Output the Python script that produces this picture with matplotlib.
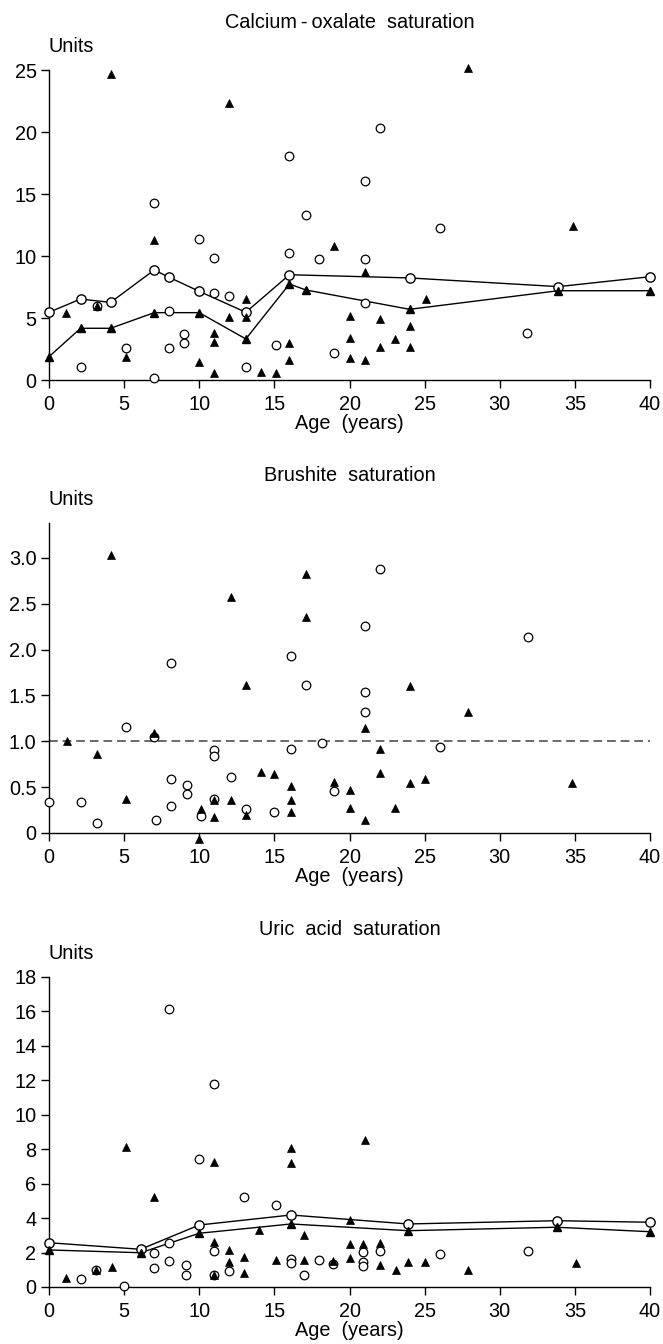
import matplotlib
matplotlib.use('Agg')
import matplotlib.pyplot as plt

plt.rcParams['font.family'] = ['Liberation Sans', 'DejaVu Sans']

# ---- Calcium-oxalate ----
ox_circ_x = [3.2, 7.0, 8.0, 10.0, 11.0, 11.0, 12.0, 16.0, 16.0, 17.1, 18.0, 21.0, 21.0, 21.0,
             22.0, 26.0, 31.8, 19.0, 2.1, 5.1, 7.0, 8.0, 9.0, 9.0, 13.1, 15.1]
ox_circ_y = [6.0, 14.27, 5.59, 11.34, 9.87, 6.99, 6.77, 18.04, 10.27, 13.28, 9.73, 16.05, 9.73, 6.18,
             20.35, 12.28, 3.79, 2.15, 1.02, 2.58, 0.19, 2.55, 3.71, 3.01, 1.08, 2.82]
ox_tri_x = [4.1, 12.0, 7.0, 19.0, 27.9, 34.9, 21.0, 1.1, 3.2, 5.1, 10.0, 11.0, 11.0, 11.0, 12.0,
            13.1, 13.1, 14.1, 15.1, 16.0, 16.0, 20.0, 22.0, 25.1, 24.0, 20.0, 23.0, 22.0, 24.0,
            20.0, 21.0]
ox_tri_y = [24.68, 22.31, 11.29, 10.8, 25.19, 12.44, 8.73, 5.43, 5.97, 1.88, 1.48, 3.76, 3.09, 0.59,
            5.05, 6.53, 5.05, 0.67, 0.54, 3.01, 1.61, 5.16, 4.92, 6.51, 4.38, 3.36, 3.31, 2.64, 2.69,
            1.75, 1.61]
ox_cline_x = [0, 2.1, 4.1, 7.0, 8.0, 10.0, 13.1, 16.0, 24.0, 33.9, 40]
ox_cline_y = [5.46, 6.53, 6.26, 8.87, 8.28, 7.15, 5.46, 8.49, 8.23, 7.53, 8.33]
ox_tline_x = [0, 2.1, 4.1, 7.0, 10.0, 13.1, 16.0, 17.1, 24.0, 33.9, 40]
ox_tline_y = [1.88, 4.17, 4.17, 5.43, 5.43, 3.31, 7.74, 7.26, 5.7, 7.2, 7.2]

# ---- Brushite ----
br_circ_x = [0, 2.1, 3.2, 5.1, 7.0, 7.1, 8.1, 8.1, 8.1, 9.2, 9.2, 10.1, 11.0, 11.0, 11.0, 12.1,
             13.1, 15.0, 16.1, 16.1, 17.1, 18.2, 19.0, 22.0, 21.0, 31.9, 21.0, 21.0, 26.0]
br_circ_y = [0.34, 0.34, 0.105, 1.16, 1.05, 0.14, 1.85, 0.585, 0.29, 0.52, 0.425, 0.18, 0.90, 0.84,
             0.37, 0.61, 0.26, 0.23, 1.93, 0.92, 1.61, 0.98, 0.46, 2.875, 2.26, 2.14, 1.54, 1.32, 0.935]
br_tri_x = [4.1, 1.2, 3.2, 5.1, 7.0, 10.1, 10.0, 11.0, 11.0, 12.1, 12.1, 13.1, 13.1, 14.1, 15.0,
            16.1, 16.1, 16.1, 17.1, 17.1, 19.0, 20.0, 20.0, 21.0, 21.0, 22.0, 22.0, 23.0, 24.0,
            24.0, 25.0, 27.9, 34.8]
br_tri_y = [3.03, 1.0, 0.86, 0.37, 1.09, 0.26, -0.06, 0.36, 0.17, 2.57, 0.36, 1.61, 0.2, 0.66, 0.64,
            0.51, 0.36, 0.225, 2.82, 2.36, 0.56, 0.47, 0.276, 0.14, 1.14, 0.92, 0.65, 0.276, 1.6,
            0.54, 0.585, 1.32, 0.54]
br_ytick_labels = ['0', '0.5', '1.0', '1.5', '2.0', '2.5', '3.0']

# ---- Uric acid ----
ur_circ_x = [2.1, 3.1, 5.0, 7.0, 7.0, 8.0, 8.0, 8.0, 9.1, 9.1, 10.0, 11.0, 11.0, 11.0, 12.0, 13.0,
             15.1, 16.1, 16.1, 17.0, 18.0, 18.9, 20.9, 20.9, 20.9, 22.0, 26.0, 31.9]
ur_circ_y = [0.46, 0.99, 0.08, 1.96, 1.09, 16.13, 2.57, 1.53, 1.28, 0.70, 7.43, 11.79, 2.09, 0.70,
             0.95, 5.23, 4.76, 1.65, 1.42, 0.70, 1.57, 1.32, 2.01, 1.47, 1.24, 2.09, 1.9, 2.11]
ur_tri_x = [1.1, 3.1, 4.2, 5.1, 7.0, 11.0, 11.0, 11.0, 12.0, 12.0, 13.0, 13.0, 14.0, 15.1, 16.1,
            16.1, 17.0, 17.0, 18.9, 21.0, 20.0, 20.0, 20.9, 22.0, 20.0, 22.0, 23.1, 23.9, 25.0,
            27.9, 35.1]
ur_tri_y = [0.5, 0.99, 1.18, 8.15, 5.21, 7.24, 2.63, 0.70, 2.15, 1.47, 1.72, 0.79, 3.31, 1.57, 8.05,
            7.18, 3.02, 1.57, 1.53, 8.54, 3.89, 2.48, 2.48, 2.57, 1.66, 1.28, 0.99, 1.47, 1.47,
            0.99, 1.41]
ur_line_x = [0, 6.1, 10.0, 16.1, 23.9, 33.8, 40]
ur_cline_y = [2.57, 2.19, 3.6, 4.18, 3.66, 3.85, 3.76]
ur_tline_y = [2.15, 1.99, 3.12, 3.66, 3.27, 3.47, 3.21]

x_ticks = [0, 5, 10, 15, 20, 25, 30, 35, 40]

FS = 14.3
MS = 6.2


def draw_panel(fig, rect, title, ylim, yticks, cx, cy, tx, ty, lines=(), ylabels=None, ref=None):
    ax = fig.add_axes(rect)
    ax.set_xlim(0, 40)
    ax.set_ylim(*ylim)
    for s in ['top', 'right']:
        ax.spines[s].set_visible(False)
    for s in ['left', 'bottom']:
        ax.spines[s].set_linewidth(1.0)
    ax.set_xticks(x_ticks)
    ax.set_yticks(yticks)
    if ylabels is not None:
        ax.set_yticklabels(ylabels)
    ax.tick_params(direction='out', length=5.5, width=1.0, labelsize=FS, colors='black')
    ax.tick_params(axis='x', pad=5)
    ax.set_xlabel('Age  (years)', fontsize=FS, labelpad=0)

    if ref is not None:
        ax.axhline(ref, color='#6a6a6a', lw=1.4, dashes=(4.5, 2.5), zorder=1)

    # mean lines first, then markers on top
    for lx, ly, mk, fc in lines:
        ax.plot(lx, ly, color='black', lw=1.0, zorder=2)
    for lx, ly, mk, fc in lines:
        ax.plot(lx, ly, linestyle='none', marker=mk, ms=MS + (0.5 if mk == 'o' else 0), mfc=fc,
                mec='black', mew=1.0, zorder=3 if mk == 'o' else 4, clip_on=False)

    ax.plot(cx, cy, linestyle='none', marker='o', ms=MS, mfc='white', mec='black', mew=0.9,
            zorder=3, clip_on=False)
    ax.plot(tx, ty, linestyle='none', marker='^', ms=MS, mfc='black', mec='black', mew=0.5,
            zorder=4, clip_on=False)

    ax.annotate(title, xy=(0.5, 1), xycoords='axes fraction', xytext=(0, 34),
                textcoords='offset points', ha='center', va='center', fontsize=FS)
    ax.annotate('Units', xy=(0, 1), xycoords='axes fraction', xytext=(0, 17),
                textcoords='offset points', ha='left', va='center', fontsize=FS)
    return ax


fig = plt.figure(figsize=(6.63, 13.44), dpi=100)

left = 49 / 663
width = (650 - 49) / 663


def rect(top_px, bottom_px):
    return [left, 1 - bottom_px / 1344, width, (bottom_px - top_px) / 1344]


draw_panel(fig, rect(70, 380), 'Calcium\u2009-\u2009oxalate  saturation', (0, 25), [0, 5, 10, 15, 20, 25],
           ox_circ_x, ox_circ_y, ox_tri_x, ox_tri_y,
           lines=[(ox_cline_x, ox_cline_y, 'o', 'white'), (ox_tline_x, ox_tline_y, '^', 'black')])

draw_panel(fig, rect(523, 833), 'Brushite  saturation', (0, 3.38), [0, 0.5, 1.0, 1.5, 2.0, 2.5, 3.0],
           br_circ_x, br_circ_y, br_tri_x, br_tri_y, ylabels=br_ytick_labels, ref=1.0)

draw_panel(fig, rect(977, 1287), 'Uric  acid  saturation', (0, 18), list(range(0, 19, 2)),
           ur_circ_x, ur_circ_y, ur_tri_x, ur_tri_y,
           lines=[(ur_line_x, ur_cline_y, 'o', 'white'), (ur_line_x, ur_tline_y, '^', 'black')])

plt.savefig('out.png', dpi=100)
